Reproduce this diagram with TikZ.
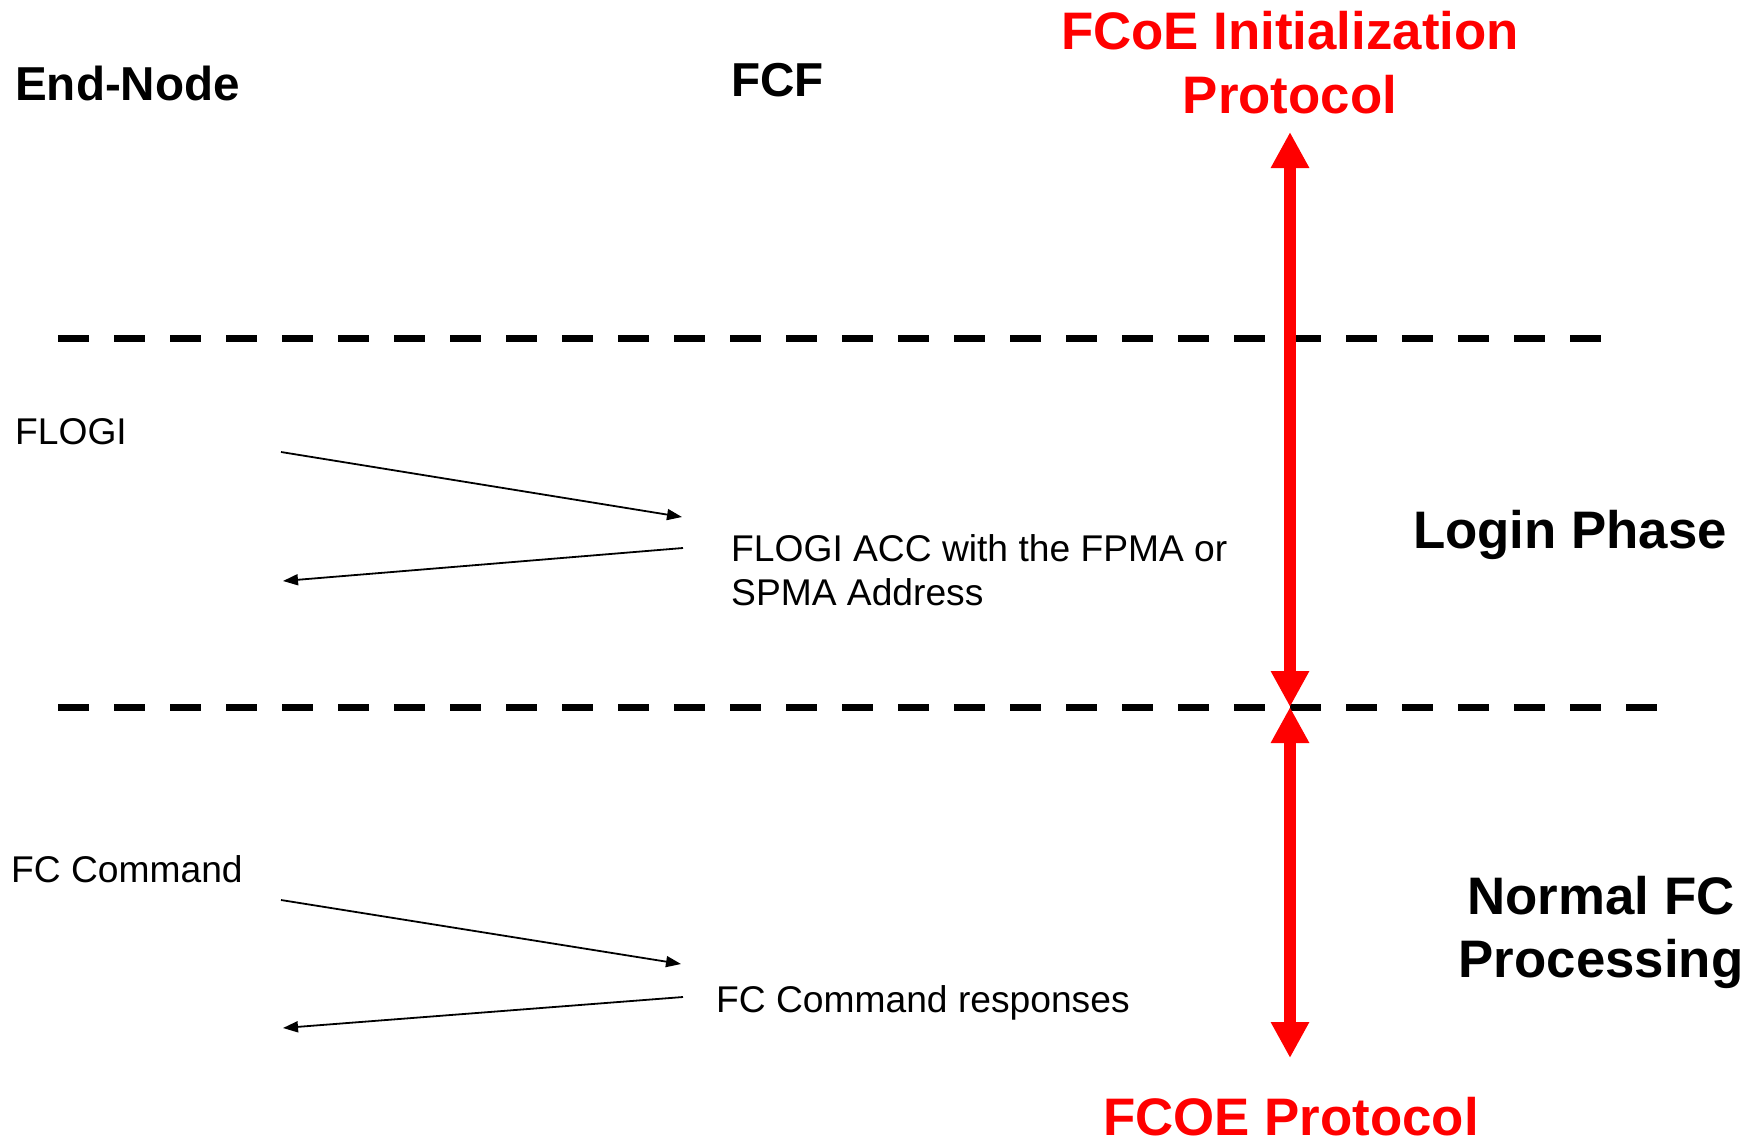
\documentclass[tikz,border=0pt]{standalone}
\usepackage{fontspec}
\setmainfont{Liberation Sans}
\usetikzlibrary{arrows.meta}
\definecolor{pured}{RGB}{255,0,0}
\tikzset{
  head/.style={font=\fontsize{47.6}{57}\selectfont\bfseries, anchor=base west, inner sep=0pt},
  big/.style={font=\fontsize{52.8}{63}\selectfont\bfseries, anchor=base, inner sep=0pt, align=center},
  redbig/.style={big, text=pured},
  msg/.style={font=\fontsize{37.2}{44}\selectfont, anchor=base west, inner sep=0pt, align=left},
  sep/.style={line width=7pt, dash pattern=on 31pt off 25pt},
  flow/.style={line width=1.8pt, -{Triangle[length=15pt,width=11pt]}},
  phase/.style={line width=12pt, pured, {Triangle[length=36pt,width=36pt]}-{Triangle[length=36pt,width=36pt]}}
}
\begin{document}
\begin{tikzpicture}[x=1pt,y=-1pt]
\useasboundingbox (0,0) rectangle (1760,1140);
% headings (multi-line nodes: base = last line)
\node[head] (endnode) at (15,100) {End-Node};
\node[head] (fcf) at (731,96) {FCF};
\node[redbig] (fip) at (1290,113) {FCoE Initialization\\Protocol};
\node[big] (login) at (1570,548) {Login Phase};
\node[big] (normal) at (1601,977) {Normal FC\\Processing};
\node[redbig] (fcoe) at (1291,1135) {FCOE Protocol};
% messages
\node[msg] (flogi) at (15,444) {FLOGI};
\node[msg] (acc) at (731,605) {FLOGI ACC with the FPMA or\\SPMA Address};
\node[msg] (fccmd) at (11,882) {FC Command};
\node[msg] (fcresp) at (716,1012) {FC Command responses};
% separators
\coordinate (s1a) at (58,338);
\coordinate (s1b) at (1603,338);
\coordinate (s2a) at (58,707);
\coordinate (s2b) at (1659,707);
\draw[sep] (s1a) -- (s1b);
\draw[sep] (s2a) -- (s2b);
% message arrows
\coordinate (f1) at (281,452);
\coordinate (f2) at (682,517);
\coordinate (f3) at (683,548);
\coordinate (f4) at (283,581);
\coordinate (c1) at (281,900);
\coordinate (c2) at (681,964);
\coordinate (c3) at (683,997);
\coordinate (c4) at (283,1028);
\draw[flow] (f1) -- (f2);
\draw[flow] (f3) -- (f4);
\draw[flow] (c1) -- (c2);
\draw[flow] (c3) -- (c4);
% phase arrows
\coordinate (ptop) at (1290,132);
\coordinate (pmid) at (1290,707);
\coordinate (pbot) at (1290,1058);
\draw[phase] (ptop) -- (pmid);
\draw[phase] (pmid) -- (pbot);
\end{tikzpicture}
\end{document}
